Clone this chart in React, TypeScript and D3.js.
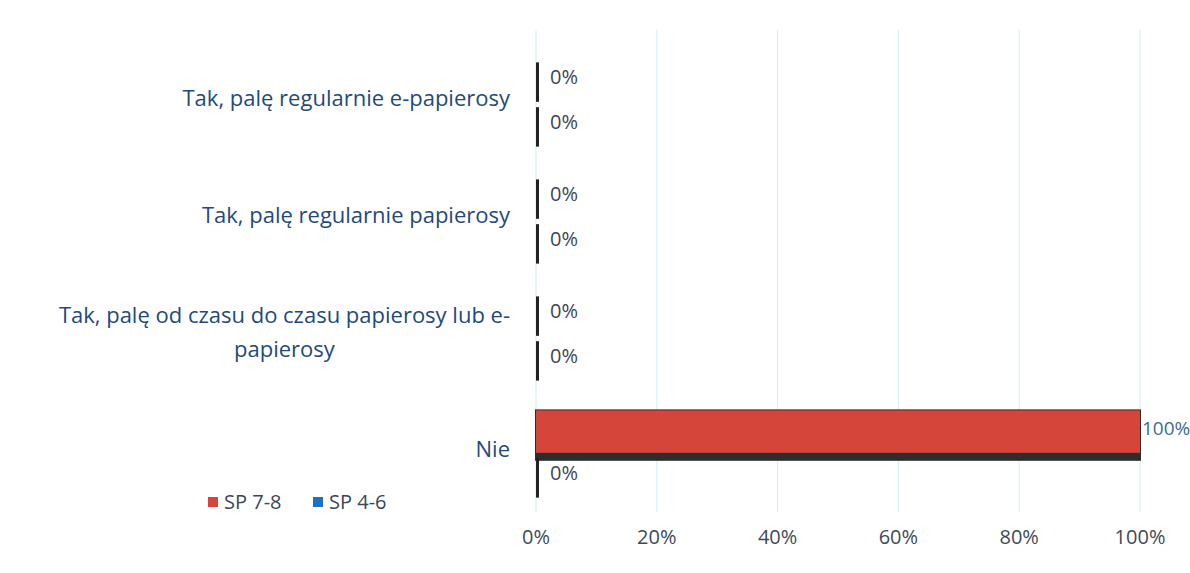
import React, { useEffect, useRef } from 'react';
import * as d3 from 'd3';

const categories = [
  'Tak, palę regularnie e-papierosy',
  'Tak, palę regularnie papierosy',
  'Tak, palę od czasu do czasu papierosy lub e-papierosy',
  'Nie',
];
const seriesNames = ['SP 7-8', 'SP 4-6'];
const sp78 = [0, 0, 0, 100];
const sp46 = [0, 0, 0, 0];
const xTicks = [0, 20, 40, 60, 80, 100];
const seriesColors = ['#d5453a', '#1f6fc4'];

const W = 1190;
const H = 573;
const FONT = '"Open Sans", Lato, sans-serif';

const App: React.FC = () => {
  const ref = useRef<SVGSVGElement | null>(null);

  useEffect(() => {
    if (!ref.current) return;
    const svg = d3.select(ref.current);
    svg.selectAll('*').remove();

    svg.append('rect').attr('width', W).attr('height', H).attr('fill', '#ffffff');

    const x = d3.scaleLinear().domain([0, 100]).range([536, 1140]);
    const y = d3.scaleBand<string>()
      .domain(categories)
      .range([46, 514])
      .paddingInner(0.28)
      .paddingOuter(0.14);
    const sub = d3.scaleBand<string>()
      .domain(seriesNames)
      .range([0, y.bandwidth()])
      .paddingInner(0.12);

    // gridlines
    svg.append('g')
      .selectAll('line')
      .data(xTicks)
      .enter()
      .append('line')
      .attr('x1', d => x(d))
      .attr('x2', d => x(d))
      .attr('y1', 30)
      .attr('y2', 512)
      .attr('stroke', '#d2edf3')
      .attr('stroke-width', 1);

    // tick labels
    svg.append('g')
      .selectAll('text')
      .data(xTicks)
      .enter()
      .append('text')
      .attr('x', d => x(d))
      .attr('y', 544)
      .attr('text-anchor', 'middle')
      .attr('fill', '#3f4a58')
      .style('font-family', FONT)
      .style('font-size', '20px')
      .text(d => `${d}%`);

    // category labels, wrapped and centred as a block against the axis
    const labelG = svg.append('g');
    categories.forEach(cat => {
      const cy = (y(cat) as number) + y.bandwidth() / 2 - 7;
      const t = labelG.append('text')
        .attr('text-anchor', 'middle')
        .attr('fill', '#1f4a7c')
        .style('font-family', FONT)
        .style('font-size', '22px');
      const measure = (s: string) => {
        const tmp = t.append('tspan').text(s);
        const w = (tmp.node() as SVGTSpanElement).getComputedTextLength();
        tmp.remove();
        return w;
      };
      const words = cat.split(' ');
      const lines: string[] = [];
      let line = '';
      const maxW = 470;
      words.forEach(w => {
        const test = line ? `${line} ${w}` : w;
        if (measure(test) > maxW && line) {
          lines.push(line);
          line = w;
        } else {
          line = test;
        }
      });
      lines.push(line);
      // break "e-papierosy" after the hyphen, as the original does
      if (lines.length > 1 && lines[1].startsWith('e-')) {
        lines[0] = `${lines[0]} e-`;
        lines[1] = lines[1].slice(2);
      }
      const blockW = d3.max(lines.map(measure)) as number;
      const centerX = 510 - blockW / 2;
      const lh = 34;
      const y0 = cy - ((lines.length - 1) * lh) / 2 + 8;
      lines.forEach((l, i) => {
        t.append('tspan')
          .attr('x', centerX)
          .attr('y', y0 + i * lh)
          .text(l);
      });
    });

    // bars
    const data = [sp78, sp46];
    const barG = svg.append('g');
    data.forEach((vals, si) => {
      vals.forEach((v, ci) => {
        const cat = categories[ci];
        const by = (y(cat) as number) + (sub(seriesNames[si]) as number);
        const bh = sub.bandwidth();
        const w = x(v) - x(0);
        if (v === 0) {
          barG.append('rect')
            .attr('x', x(0))
            .attr('y', by)
            .attr('width', 3)
            .attr('height', bh)
            .attr('fill', '#222');
        } else {
          barG.append('rect')
            .attr('x', x(0) - 1)
            .attr('y', by - 4)
            .attr('width', w + 2)
            .attr('height', bh + 12)
            .attr('fill', '#2d2d2d');
          barG.append('rect')
            .attr('x', x(0))
            .attr('y', by - 3)
            .attr('width', w)
            .attr('height', bh + 3)
            .attr('fill', seriesColors[si]);
        }
        barG.append('text')
          .attr('x', x(v) + (v === 0 ? 14 : 2))
          .attr('y', by + bh / 2 + 2)
          .attr('fill', v === 0 ? '#3b465c' : '#3d6a9a')
          .style('font-family', FONT)
          .style('font-size', v === 0 ? '20px' : '19px')
          .text(`${v}%`);
      });
    });

    // legend
    const lg = svg.append('g').attr('transform', 'translate(208,497)');
    seriesNames.forEach((s, i) => {
      const gx = i * 105;
      lg.append('rect')
        .attr('x', gx)
        .attr('y', 0)
        .attr('width', 10)
        .attr('height', 10)
        .attr('fill', seriesColors[i]);
      lg.append('text')
        .attr('x', gx + 16)
        .attr('y', 12)
        .attr('fill', '#3b465c')
        .style('font-family', FONT)
        .style('font-size', '20px')
        .text(s);
    });
  }, []);

  return (
    <svg
      ref={ref}
      width={W}
      height={H}
      style={{ position: 'fixed', top: 0, left: 0 }}
    />
  );
};

export default App;
